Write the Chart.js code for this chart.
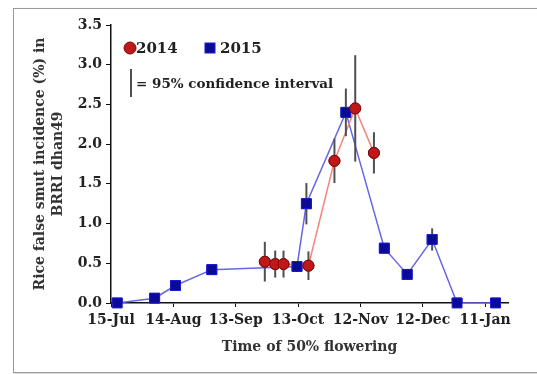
<!DOCTYPE html>
<html>
<head>
<meta charset="utf-8">
<script src="https://cdn.jsdelivr.net/npm/chart.js@4.4.0/dist/chart.umd.min.js"></script>
<style>
  html, body { margin: 0; padding: 0; background: #fff; }
  #wrap { position: relative; width: 537px; height: 374px; }
  #frame {
    position: absolute; left: 13px; top: 8px; width: 530px; height: 363px;
    border: 1px solid #9a9a9a; box-shadow: 1px 1px 2px #ccc;
  }
  canvas { position: absolute; left: 0; top: 0; }
</style>
</head>
<body>
<div id="wrap">
  <div id="frame"></div>
  <canvas id="smut" width="537" height="374"></canvas>
</div>
<script>
// days counted from 15-Jul
const tickDays = [0, 30, 60, 90, 120, 150, 180];
const tickLabels = ["15-Jul", "14-Aug", "13-Sep", "13-Oct", "12-Nov", "12-Dec", "11-Jan"];

const days2014 = [74, 79, 83, 95, 107.5, 117.5, 126.5];
const inc2014 = [0.52, 0.49, 0.49, 0.47, 1.79, 2.45, 1.89];
const ci2014 = [0.25, 0.17, 0.17, 0.18, 0.28, 0.67, 0.26];

const days2015 = [3, 21, 31, 48.5, 89.5, 94, 113, 131.5, 142.5, 154.5, 166.5, 185];
const inc2015 = [0.0, 0.06, 0.22, 0.42, 0.46, 1.25, 2.40, 0.69, 0.36, 0.80, 0.0, 0.0];
const ci2015 = [0.02, 0.03, 0.04, 0.06, 0.05, 0.26, 0.30, 0.05, 0.04, 0.14, 0.02, 0.02];

const serif = '"DejaVu Serif", "Liberation Serif", serif';

function toPoints(xs, ys) {
  return xs.map((x, i) => ({ x: x, y: ys[i] }));
}

// vertical confidence-interval bars for each dataset
const errorBars = {
  id: "errorBars",
  afterDatasetsDraw(chart) {
    const ctx = chart.ctx;
    const xs = chart.scales.x;
    const ys = chart.scales.y;
    ctx.save();
    ctx.strokeStyle = "#505050";
    ctx.lineWidth = 2;
    chart.data.datasets.forEach((ds) => {
      ds.data.forEach((p, i) => {
        const px = xs.getPixelForValue(p.x);
        ctx.beginPath();
        ctx.moveTo(px, ys.getPixelForValue(p.y + ds.ci[i]));
        ctx.lineTo(px, ys.getPixelForValue(Math.max(0, p.y - ds.ci[i])));
        ctx.stroke();
      });
    });
    ctx.restore();
  },
};

// markers redrawn on top of the bars
const markersOnTop = {
  id: "markersOnTop",
  afterDatasetsDraw(chart) {
    for (let i = chart.data.datasets.length - 1; i >= 0; i--) {
      const meta = chart.getDatasetMeta(i);
      meta.data.forEach((el) => el.draw(chart.ctx, chart.chartArea));
    }
  },
};

// legend inside the plot
const plotLegend = {
  id: "plotLegend",
  afterDraw(chart) {
    const ctx = chart.ctx;
    const a = chart.chartArea;
    const ds = chart.data.datasets;
    const y = a.top + 23;
    ctx.save();
    ctx.font = "bold 15px " + serif;
    ctx.textBaseline = "middle";

    let x = a.left + 19;
    ctx.beginPath();
    ctx.arc(x, y, 6, 0, Math.PI * 2);
    ctx.fillStyle = ds[0].pointBackgroundColor;
    ctx.fill();
    ctx.strokeStyle = ds[0].pointBorderColor;
    ctx.lineWidth = 1;
    ctx.stroke();
    ctx.fillStyle = "#222";
    ctx.fillText(ds[0].label, x + 6, y + 1);

    x = a.left + 99;
    ctx.fillStyle = ds[1].pointBackgroundColor;
    ctx.fillRect(x - 5, y - 5, 10, 10);
    ctx.strokeStyle = ds[1].pointBorderColor;
    ctx.strokeRect(x - 5, y - 5, 10, 10);
    ctx.fillStyle = "#222";
    ctx.fillText(ds[1].label, x + 10, y + 1);

    const y2 = a.top + 59;
    ctx.strokeStyle = "#505050";
    ctx.lineWidth = 2;
    ctx.beginPath();
    ctx.moveTo(a.left + 20, y2 - 15);
    ctx.lineTo(a.left + 20, y2 + 13);
    ctx.stroke();
    ctx.font = "bold 13.5px " + serif;
    ctx.fillText("= 95% confidence interval", a.left + 25, y2);
    ctx.restore();
  },
};

new Chart(document.getElementById("smut"), {
  type: "line",
  data: {
    datasets: [
      {
        label: "2014",
        data: toPoints(days2014, inc2014),
        ci: ci2014,
        borderColor: "#f08878",
        borderWidth: 1.5,
        pointStyle: "circle",
        pointRadius: 5.5,
        pointBackgroundColor: "#c01818",
        pointBorderColor: "#7a0a0a",
        pointBorderWidth: 1,
        tension: 0,
      },
      {
        label: "2015",
        data: toPoints(days2015, inc2015),
        ci: ci2015,
        borderColor: "#6666e6",
        borderWidth: 1.5,
        pointStyle: "rect",
        pointRadius: 7,
        pointBackgroundColor: "#0a0a96",
        pointBorderColor: "#1a1ad0",
        pointBorderWidth: 1,
        tension: 0,
      },
    ],
  },
  options: {
    responsive: false,
    animation: false,
    layout: { padding: { left: 28, top: 25, right: 29, bottom: 14 } },
    plugins: {
      legend: { display: false },
      tooltip: { enabled: false },
    },
    scales: {
      x: {
        type: "linear",
        min: 0,
        max: 191,
        afterBuildTicks(scale) {
          scale.ticks = tickDays.map((v) => ({ value: v }));
        },
        afterFit(scale) {
          scale.height = 374 - 14 - 303;
        },
        border: { display: true, color: "#111", width: 1.5 },
        grid: { display: true, drawOnChartArea: false, drawTicks: true, tickLength: 4, color: "#111" },
        ticks: {
          color: "#222",
          padding: 5,
          maxRotation: 0,
          font: { family: serif, size: 14, weight: "bold" },
          callback: (v) => tickLabels[tickDays.indexOf(v)],
        },
        title: {
          display: true,
          text: "Time of 50% flowering",
          color: "#333",
          padding: { top: 8 },
          font: { family: serif, size: 14, weight: "bold" },
        },
      },
      y: {
        min: 0,
        max: 3.5,
        afterFit(scale) {
          scale.width = 111 - 28;
        },
        border: { display: true, color: "#111", width: 1.5 },
        grid: { display: true, drawOnChartArea: false, drawTicks: true, tickLength: 5, color: "#111" },
        ticks: {
          stepSize: 0.5,
          color: "#222",
          padding: 4,
          font: { family: serif, size: 14, weight: "bold" },
          callback: (v) => v.toFixed(1),
        },
        title: {
          display: true,
          text: ["Rice false smut incidence (%) in", "BRRI dhan49"],
          color: "#333",
          padding: { bottom: 2 },
          font: { family: serif, size: 14, weight: "bold", lineHeight: 1.25 },
        },
      },
    },
  },
  plugins: [errorBars, markersOnTop, plotLegend],
});
</script>
</body>
</html>
